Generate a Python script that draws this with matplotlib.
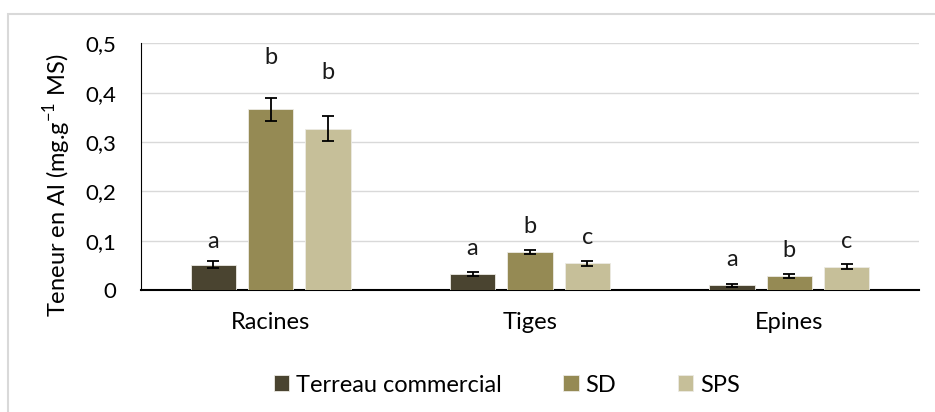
import matplotlib
matplotlib.use("Agg")
import matplotlib.pyplot as plt
from matplotlib.patches import Rectangle
import numpy as np

categories = ["Racines", "Tiges", "Epines"]
series = ["Terreau commercial", "SD", "SPS"]
terreau = [0.051, 0.032, 0.010]
sd = [0.366, 0.077, 0.028]
sps = [0.327, 0.054, 0.047]
terreau_err = [0.007, 0.0035, 0.003]
sd_err = [0.023, 0.005, 0.0035]
sps_err = [0.025, 0.005, 0.005]
letters = [["a", "a", "a"], ["b", "b", "b"], ["b", "c", "c"]]
# how far each letter sits above its error bar
letter_gap = [[0.028, 0.036, 0.035], [0.070, 0.034, 0.036], [0.075, 0.034, 0.034]]
yticks = [0, 0.1, 0.2, 0.3, 0.4, 0.5]
ytick_labels = ["0", "0,1", "0,2", "0,3", "0,4", "0,5"]

colors = ["#4a4430", "#958a54", "#c6bf99"]
values = [terreau, sd, sps]
errors = [terreau_err, sd_err, sps_err]

plt.rcParams["font.family"] = ["Lato", "DejaVu Sans"]
plt.rcParams["mathtext.fontset"] = "custom"
plt.rcParams["mathtext.rm"] = "Lato"

W, H = 935, 412
fig = plt.figure(figsize=(W / 100, H / 100), dpi=100)
ax = fig.add_axes([141 / W, 1 - 290 / H, (919 - 141) / W, (290 - 43.3) / H])

# light frame around the chart area
fig.patches.append(Rectangle((8 / W, -0.1), 1.2, 1 - 14 / H + 0.1,
                             transform=fig.transFigure, fill=False,
                             edgecolor="#d9d9d9", linewidth=1.5))

x = np.arange(len(categories))
width = 0.175
step = 0.2216
for i, (vals, errs) in enumerate(zip(values, errors)):
    pos = x + (i - 1) * step
    ax.bar(pos, vals, width, color=colors[i], label=series[i], zorder=3,
           edgecolor="#ecebe4", linewidth=0.6)
    ax.errorbar(pos, vals, yerr=errs, fmt="none", ecolor="black",
                elinewidth=1.3, capsize=4.3, capthick=1.3, zorder=4)
    for j in range(len(categories)):
        top = vals[j] + errs[j]
        ax.text(pos[j], top + letter_gap[i][j], letters[i][j], ha="center",
                va="baseline", fontsize=17, color="#1a1a1a")

ax.set_xlim(-0.5, 2.5)
ax.set_ylim(0, 0.5)
ax.set_yticks(yticks)
ax.set_yticklabels(ytick_labels, fontsize=16)
ax.set_xticks(x)
ax.set_xticklabels(categories, fontsize=17)
ax.tick_params(axis="both", length=0)
ax.tick_params(axis="y", pad=18)
ax.tick_params(axis="x", pad=16)
ax.yaxis.grid(True, color="#d9d9d9", linewidth=1.0, zorder=0)
ax.set_axisbelow(True)
for side in ["top", "right"]:
    ax.spines[side].set_visible(False)
ax.spines["left"].set_linewidth(0.8)
ax.spines["bottom"].set_linewidth(1.5)
ax.set_ylabel(r"Teneur en Al (mg.g$^{\mathregular{-1}}$ MS)", fontsize=17)
ax.yaxis.set_label_coords(-0.088, 0.424)

ax.legend(loc="center", bbox_to_anchor=(507 / W, 1 - 385 / H),
          bbox_transform=fig.transFigure, ncol=3, frameon=False,
          fontsize=17, handlelength=0.64, handleheight=0.64,
          handletextpad=0.3, columnspacing=2.6)

fig.savefig("out.png", dpi=100)
